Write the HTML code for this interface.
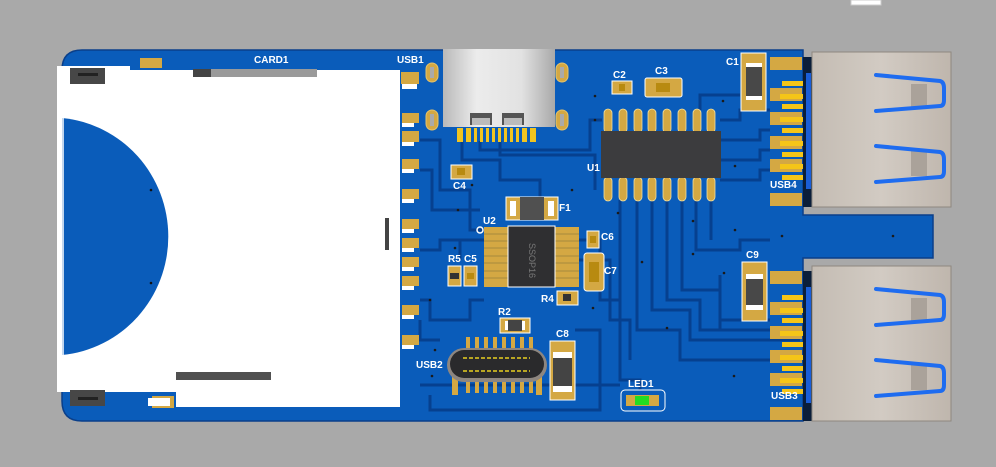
<!DOCTYPE html>
<html><head><style>
html,body{margin:0;padding:0;background:#a9a9a9;}
svg{display:block}
text{font-family:"Liberation Sans",sans-serif;font-weight:bold;font-size:10px;fill:#fff}
</style></head><body>
<svg width="996" height="467" viewBox="0 0 996 467" xmlns="http://www.w3.org/2000/svg">
<defs>
<linearGradient id="silver" x1="0" x2="1" y1="0" y2="0">
<stop offset="0" stop-color="#b9b9b9"/><stop offset="0.3" stop-color="#ececec"/><stop offset="0.7" stop-color="#e2e2e2"/><stop offset="1" stop-color="#a9a9a9"/></linearGradient>
<linearGradient id="usbA" x1="0" x2="1"><stop offset="0" stop-color="#c4bcb3"/><stop offset="0.5" stop-color="#d2cbc3"/><stop offset="1" stop-color="#bfb6ad"/></linearGradient>
</defs>
<rect width="996" height="467" fill="#a9a9a9"/>
<rect x="851" y="0" width="30" height="5" fill="#fff" stroke="#ccc"/>
<!-- board -->
<path d="M82 50 H803 V215 H933 V258 H803 V421 H82 Q62 421 62 401 V70 Q62 50 82 50 Z" fill="#0a5cba" stroke="#0a3f8a" stroke-width="1.5"/>
<!-- darker traces -->
<g fill="none" stroke="#06408f" stroke-width="3">
<path d="M420 140 H440 V190 H470 V230 H484"/>
<path d="M420 170 H432 V210 H480"/>
<path d="M420 250 H440 V240 H484"/>
<path d="M420 300 H430 V320 H470 V300 H484"/>
<path d="M420 320 V340 H440"/>
<path d="M462 141 V160 H500 V180 H540 V197"/>
<path d="M480 141 V150 H590 V120 H602"/>
<path d="M500 141 V155 H595 V190"/>
<path d="M578 240 H600 V300 H620 V380 H640 V390"/>
<path d="M578 260 H610 V320 H630 V360"/>
<path d="M620 200 V300"/><path d="M637 200 V330 H680 V360 H800"/>
<path d="M652 200 V310 H690 V340 H800"/>
<path d="M667 200 V300 H700 V330 H770"/>
<path d="M682 200 V290 H720 V320 H770"/>
<path d="M696 200 V250 H740 V240 H770"/>
<path d="M711 200 V240"/>
<path d="M720 120 H740 V110 H770"/>
<path d="M720 140 H760 V130 H770"/>
<path d="M720 160 H760 V150 H770"/>
<path d="M720 180 H760 V170 H770"/>
<path d="M700 110 V95 H740"/>
<path d="M720 275 V330 H760"/>
<path d="M480 240 H460 V260"/>
<path d="M420 385 H620"/>
<path d="M575 330 H600 V410 H430 V395"/>
</g>
<!-- card -->
<path d="M57 66 H130 V70 H400 V407 H176 V392 H57 Z" fill="#fff"/>
<path d="M62 118 A117 119 0 0 1 62 355 Z" fill="#0a5cba"/>
<line x1="63" y1="118" x2="63" y2="355" stroke="#fff" stroke-width="1.5"/>
<circle cx="151" cy="190" r="1.3" fill="#111"/><circle cx="151" cy="283" r="1.3" fill="#111"/>
<rect x="70" y="68" width="35" height="16" fill="#474747"/><rect x="78" y="73" width="20" height="3" fill="#222"/>
<rect x="70" y="390" width="35" height="16" fill="#474747"/><rect x="78" y="397" width="20" height="3" fill="#222"/>
<rect x="193" y="69" width="124" height="8" fill="#9a9a9a"/><rect x="193" y="69" width="18" height="8" fill="#444"/>
<rect x="176" y="372" width="95" height="8" fill="#505050"/>
<rect x="140" y="58" width="22" height="10" fill="#d4a843"/>
<rect x="152" y="396" width="22" height="12" fill="#d4a843"/>
<rect x="148" y="398" width="22" height="8" fill="#fff"/>
<rect x="385" y="218" width="4" height="32" fill="#444"/>
<g fill="#d4a843">
<rect x="401" y="72" width="18" height="12"/><rect x="402" y="113" width="17" height="10"/><rect x="402" y="131" width="17" height="11"/>
<rect x="402" y="159" width="17" height="10"/><rect x="402" y="189" width="17" height="10"/><rect x="402" y="219" width="17" height="10"/>
<rect x="402" y="238" width="17" height="10"/><rect x="402" y="257" width="17" height="10"/><rect x="402" y="276" width="17" height="10"/>
<rect x="402" y="305" width="17" height="10"/><rect x="402" y="335" width="17" height="10"/>
</g>
<g fill="#fff">
<rect x="402" y="84" width="15" height="5"/><rect x="402" y="123" width="12" height="4"/><rect x="402" y="142" width="12" height="4"/><rect x="402" y="169" width="12" height="4"/><rect x="402" y="199" width="12" height="4"/><rect x="402" y="229" width="12" height="4"/><rect x="402" y="248" width="12" height="4"/><rect x="402" y="267" width="12" height="4"/><rect x="402" y="286" width="12" height="4"/><rect x="402" y="315" width="12" height="4"/><rect x="402" y="345" width="12" height="4"/>
</g>
<!-- USB1 -->
<g fill="#d4a843" stroke="#e6c36a">
<rect x="426" y="63" width="12" height="19" rx="6"/><rect x="426" y="110" width="12" height="20" rx="6"/>
<rect x="556" y="63" width="12" height="19" rx="6"/><rect x="556" y="110" width="12" height="20" rx="6"/>
</g>
<g fill="#aaa"><rect x="430" y="67" width="4" height="11"/><rect x="430" y="114" width="4" height="12"/><rect x="560" y="67" width="4" height="11"/><rect x="560" y="114" width="4" height="12"/></g>
<rect x="443" y="49" width="112" height="78" fill="url(#silver)"/>
<rect x="470" y="113" width="22" height="12" fill="#555"/><rect x="502" y="113" width="22" height="12" fill="#555"/>
<rect x="472" y="118" width="18" height="7" fill="#bbb"/><rect x="504" y="118" width="18" height="7" fill="#bbb"/>
<g fill="#f0c420">
<rect x="457" y="128" width="6" height="14"/><rect x="466" y="128" width="5" height="14"/><rect x="474" y="128" width="3" height="14"/><rect x="480" y="128" width="3" height="14"/><rect x="486" y="128" width="3" height="14"/><rect x="492" y="128" width="3" height="14"/><rect x="498" y="128" width="3" height="14"/><rect x="504" y="128" width="3" height="14"/><rect x="510" y="128" width="3" height="14"/><rect x="516" y="128" width="3" height="14"/><rect x="522" y="128" width="5" height="14"/><rect x="530" y="128" width="6" height="14"/>
</g>
<!-- U1 -->
<g fill="#d4a843" stroke="#f2e0a0" stroke-width="0.8">
<rect x="604" y="109" width="8" height="24" rx="4"/><rect x="619" y="109" width="8" height="24" rx="4"/><rect x="634" y="109" width="8" height="24" rx="4"/><rect x="648" y="109" width="8" height="24" rx="4"/><rect x="663" y="109" width="8" height="24" rx="4"/><rect x="678" y="109" width="8" height="24" rx="4"/><rect x="693" y="109" width="8" height="24" rx="4"/><rect x="707" y="109" width="8" height="24" rx="4"/>
<rect x="604" y="177" width="8" height="24" rx="4"/><rect x="619" y="177" width="8" height="24" rx="4"/><rect x="634" y="177" width="8" height="24" rx="4"/><rect x="648" y="177" width="8" height="24" rx="4"/><rect x="663" y="177" width="8" height="24" rx="4"/><rect x="678" y="177" width="8" height="24" rx="4"/><rect x="693" y="177" width="8" height="24" rx="4"/><rect x="707" y="177" width="8" height="24" rx="4"/>
</g>
<rect x="601" y="131" width="120" height="47" fill="#3c3c3e"/>
<!-- C2 C3 -->
<rect x="612" y="81" width="20" height="13" fill="#d4a843" stroke="#fff"/><rect x="619" y="84" width="6" height="7" fill="#b88a10"/>
<rect x="645" y="78" width="37" height="19" rx="2" fill="#d4a843" stroke="#fff"/><rect x="656" y="83" width="14" height="9" fill="#b88a10"/>
<!-- C4 -->
<rect x="451" y="165" width="21" height="14" fill="#d4a843" stroke="#fff"/><rect x="457" y="168" width="8" height="7" fill="#b88a10"/>
<!-- F1 -->
<rect x="506" y="197" width="52" height="23" fill="#d4a843" stroke="#fff"/><rect x="520" y="197" width="24" height="23" fill="#505050"/>
<rect x="510" y="201" width="6" height="15" fill="#fff"/><rect x="548" y="201" width="6" height="15" fill="#fff"/>
<!-- U2 -->
<g fill="#d4a843"><rect x="484" y="227" width="24" height="60"/><rect x="555" y="227" width="24" height="60"/></g>
<g stroke="#a68a3c" stroke-width="1"><path d="M484 234H508M484 241H508M484 248H508M484 256H508M484 263H508M484 271H508M484 278H508M555 234H579M555 241H579M555 248H579M555 256H579M555 263H579M555 271H579M555 278H579"/></g>
<rect x="508" y="226" width="47" height="61" fill="#2f2f31" stroke="#fff"/>
<text x="0" y="0" transform="translate(529,243) rotate(90)" style="font-weight:normal;font-size:9px;fill:#777">SSOP16</text>
<circle cx="480" cy="230" r="3" fill="none" stroke="#fff" stroke-width="1.5"/>
<!-- C6 C7 -->
<rect x="587" y="231" width="12" height="17" fill="#d4a843" stroke="#fff"/><rect x="590" y="236" width="6" height="7" fill="#b88a10"/>
<rect x="584" y="253" width="20" height="38" rx="3" fill="#d4a843" stroke="#fff"/><rect x="589" y="262" width="10" height="20" fill="#b88a10"/>
<!-- R5 C5 -->
<rect x="448" y="266" width="13" height="20" fill="#d4a843" stroke="#fff"/><rect x="450" y="273" width="9" height="6" fill="#333"/>
<rect x="464" y="266" width="13" height="20" fill="#d4a843" stroke="#fff"/><rect x="467" y="273" width="7" height="6" fill="#b88a10"/>
<!-- R4 R2 -->
<rect x="557" y="291" width="21" height="14" fill="#d4a843" stroke="#fff"/><rect x="563" y="294" width="8" height="7" fill="#333"/>
<rect x="500" y="318" width="30" height="15" fill="#d4a843" stroke="#fff"/><rect x="508" y="320" width="14" height="11" fill="#444"/><rect x="505" y="321" width="3" height="9" fill="#fff"/><rect x="522" y="321" width="3" height="9" fill="#fff"/>
<!-- USB2 -->
<g fill="#d4a843">
<rect x="466" y="337" width="4" height="14"/><rect x="475" y="337" width="4" height="14"/><rect x="484" y="337" width="4" height="14"/><rect x="493" y="337" width="4" height="14"/><rect x="502" y="337" width="4" height="14"/><rect x="511" y="337" width="4" height="14"/><rect x="520" y="337" width="4" height="14"/><rect x="529" y="337" width="4" height="14"/>
<rect x="452" y="375" width="6" height="20"/><rect x="466" y="375" width="4" height="18"/><rect x="475" y="375" width="4" height="18"/><rect x="484" y="375" width="4" height="18"/><rect x="493" y="375" width="4" height="18"/><rect x="502" y="375" width="4" height="18"/><rect x="511" y="375" width="4" height="18"/><rect x="520" y="375" width="4" height="18"/><rect x="529" y="375" width="4" height="18"/><rect x="536" y="375" width="6" height="20"/>
</g>
<rect x="447" y="348" width="100" height="34" rx="17" fill="#8d8680"/>
<rect x="450" y="350" width="94" height="28" rx="14" fill="#2a2a2c"/>
<path d="M463 358H530M463 371H530" stroke="#e8d020" stroke-width="1.5" stroke-dasharray="4 2"/>
<!-- C8 -->
<rect x="550" y="341" width="25" height="59" fill="#d4a843" stroke="#fff"/><rect x="553" y="352" width="19" height="40" fill="#444"/><rect x="553" y="352" width="19" height="6" fill="#fff"/><rect x="553" y="386" width="19" height="6" fill="#fff"/>
<!-- LED1 -->
<rect x="621" y="390" width="44" height="21" rx="4" fill="none" stroke="#fff"/>
<rect x="626" y="395" width="33" height="11" fill="#d4a843"/><rect x="635" y="396" width="14" height="9" fill="#22dd22"/>
<!-- C1 C9 -->
<rect x="741" y="53" width="25" height="58" fill="#d4a843" stroke="#fff"/><rect x="746" y="63" width="16" height="36" fill="#484848"/><rect x="746" y="63" width="16" height="4" fill="#fff"/><rect x="746" y="96" width="16" height="4" fill="#fff"/>
<rect x="742" y="262" width="25" height="59" fill="#d4a843" stroke="#fff"/><rect x="746" y="274" width="17" height="36" fill="#484848"/><rect x="746" y="274" width="17" height="5" fill="#fff"/><rect x="746" y="305" width="17" height="5" fill="#fff"/>
<!-- USB A connectors -->
<g id="ua">
<g fill="#d4a843"><rect x="770" y="57" width="32" height="13"/><rect x="770" y="88" width="32" height="13"/><rect x="770" y="112" width="32" height="13"/><rect x="770" y="136" width="32" height="13"/><rect x="770" y="159" width="32" height="13"/><rect x="770" y="193" width="32" height="13"/></g>
<g fill="#f5c518"><rect x="782" y="81" width="28" height="5"/><rect x="780" y="94" width="30" height="5"/><rect x="782" y="104" width="28" height="5"/><rect x="780" y="117" width="30" height="5"/><rect x="782" y="128" width="28" height="5"/><rect x="780" y="141" width="30" height="5"/><rect x="782" y="152" width="28" height="5"/><rect x="780" y="164" width="30" height="5"/><rect x="782" y="175" width="28" height="5"/></g>
<rect x="803" y="57" width="10" height="150" fill="#0a1e3a"/>
<rect x="806" y="73" width="5" height="116" fill="#1a5ed8"/>
<rect x="812" y="52" width="139" height="155" fill="url(#usbA)" stroke="#8e8880"/>
<rect x="911" y="84" width="16" height="25" fill="#aaa29a"/><rect x="911" y="151" width="16" height="25" fill="#aaa29a"/>
<path d="M876 75 L940 81 Q944 82 944 88 V100 Q944 106 940 106 L876 111" fill="none" stroke="#1e6cf0" stroke-width="4" stroke-linecap="round"/>
<path d="M876 146 L940 152 Q944 153 944 159 V171 Q944 177 940 177 L876 182" fill="none" stroke="#1e6cf0" stroke-width="4" stroke-linecap="round"/>
</g>
<use href="#ua" transform="translate(0,214)"/>
<!-- vias -->
<g fill="#1a1a1a">
<circle cx="595" cy="96" r="1.3"/><circle cx="595" cy="120" r="1.3"/><circle cx="723" cy="101" r="1.3"/><circle cx="735" cy="166" r="1.3"/><circle cx="472" cy="185" r="1.3"/><circle cx="458" cy="210" r="1.3"/><circle cx="572" cy="190" r="1.3"/><circle cx="618" cy="213" r="1.3"/><circle cx="693" cy="221" r="1.3"/><circle cx="735" cy="230" r="1.3"/><circle cx="782" cy="236" r="1.3"/><circle cx="893" cy="236" r="1.3"/><circle cx="693" cy="254" r="1.3"/><circle cx="724" cy="273" r="1.3"/><circle cx="667" cy="328" r="1.3"/><circle cx="734" cy="376" r="1.3"/><circle cx="435" cy="350" r="1.3"/><circle cx="432" cy="376" r="1.3"/><circle cx="430" cy="300" r="1.3"/><circle cx="593" cy="308" r="1.3"/><circle cx="642" cy="262" r="1.3"/><circle cx="455" cy="248" r="1.3"/>
</g>
<!-- labels -->
<text x="254" y="63">CARD1</text>
<text x="397" y="63">USB1</text>
<text x="613" y="78">C2</text>
<text x="655" y="74">C3</text>
<text x="726" y="65">C1</text>
<text x="587" y="171">U1</text>
<text x="453" y="189">C4</text>
<text x="559" y="211">F1</text>
<text x="483" y="224">U2</text>
<text x="601" y="240">C6</text>
<text x="604" y="274">C7</text>
<text x="448" y="262">R5</text>
<text x="464" y="262">C5</text>
<text x="541" y="302">R4</text>
<text x="498" y="315">R2</text>
<text x="556" y="337">C8</text>
<text x="416" y="368">USB2</text>
<text x="628" y="387">LED1</text>
<text x="746" y="258">C9</text>
<text x="770" y="188">USB4</text>
<text x="771" y="399">USB3</text>
</svg>
</body></html>
